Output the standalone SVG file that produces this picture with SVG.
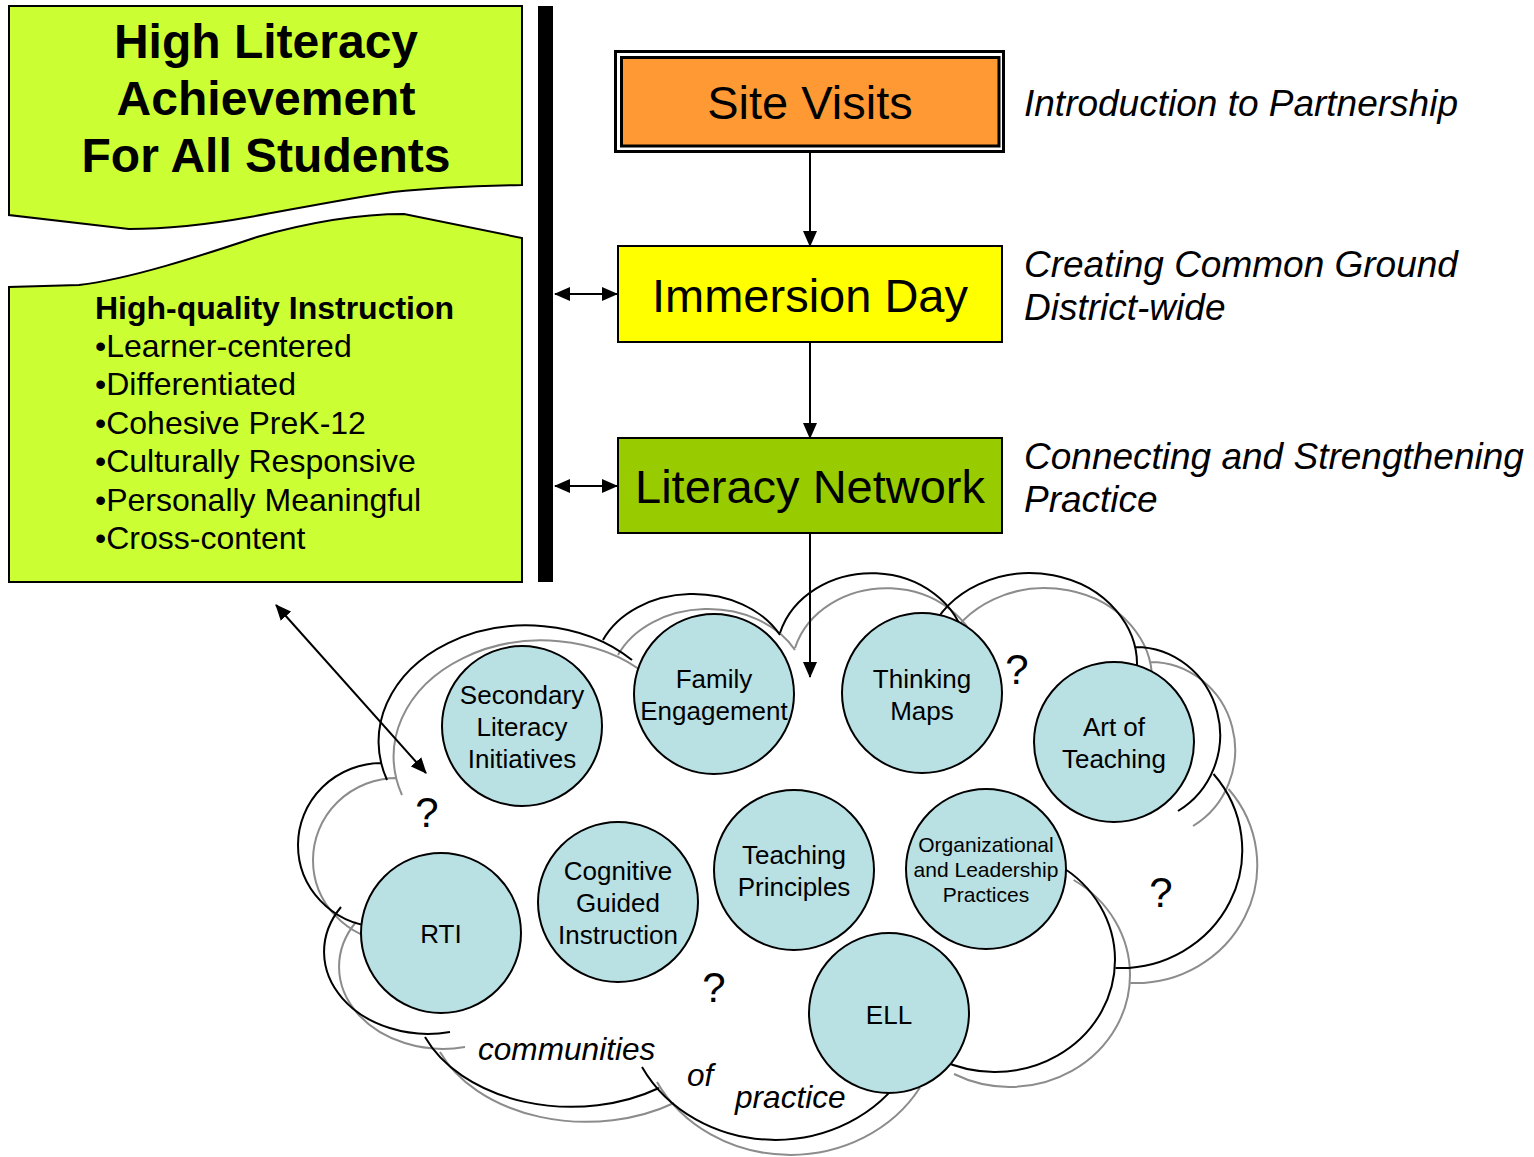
<svg xmlns="http://www.w3.org/2000/svg" xmlns:xlink="http://www.w3.org/1999/xlink" width="1534" height="1157" viewBox="0 0 1534 1157">
<style>
text{font-family:"Liberation Sans",Arial,sans-serif;fill:#000}
.title{font-size:48px;font-weight:bold;text-anchor:middle}
.hq{font-size:32px}
.hqb{font-size:32px;font-weight:bold}
.box{font-size:47px;text-anchor:middle}
.side{font-size:37px;font-style:italic}
.circ{fill:#b9e0e3;stroke:#000;stroke-width:2}
.ct{font-size:26px;text-anchor:middle}
.cts{font-size:21px;text-anchor:middle}
.q{font-size:42px;text-anchor:middle}
.cop{font-size:31.6px;font-style:italic}
.outline{fill:none;stroke:#000;stroke-width:2}
.shadow{fill:none;stroke:#8c8c8c;stroke-width:2}
.conn{stroke:#000;stroke-width:2;fill:none}
.lime{fill:#ccff33;stroke:#000;stroke-width:2}
</style>
<defs>
<marker id="ah" markerUnits="userSpaceOnUse" markerWidth="16" markerHeight="14" viewBox="0 0 16 14" refX="15" refY="7" orient="auto-start-reverse">
<path d="M0,0 L16,7 L0,14 Z" fill="#000"/>
</marker>
<path id="cloudArcs" d="M387,780 A148,116 0 0 1 632,660 M603,640 A98,76 0 0 1 780,635 M780,633 A95,82 0 0 1 965,641 M929.5,633.5 A107,92 0 0 1 1136.6,673 M1135,647 A85,88 0 0 1 1178,811 M1213.5,774 A122,118 0 0 1 1115.7,968 M1058.6,865 A120,112 0 0 1 1115,960 A120,112 0 0 1 939,1059 M642,1067 A150,135 0 0 0 905,1072.5 M425,1037 A158,112 0 0 0 659,1088 M341,907 A104,82 0 0 0 450,1032 M382,763 A84,82 0 0 0 298,845 A84,82 0 0 0 374.7,926.7"/>
</defs>
<rect width="1534" height="1157" fill="#fff"/>

<g id="goal">
<path class="lime" d="M9,6 L522,6 L522,185 C470,186 430,188 393,192 C350,198 300,208 250,217 C200,226 160,229 129,229 L9,215 Z"/>
<text class="title" x="266" y="58">High Literacy</text>
<text class="title" x="266" y="115">Achievement</text>
<text class="title" x="266" y="172">For All Students</text>
</g>

<g id="instruction">
<path class="lime" d="M9,582 L9,287 L79,285 C130,279 200,256 257,237 C310,222 360,214 404,214 L522,238 L522,582 Z"/>
<text class="hqb" x="95" y="319">High-quality Instruction</text>
<text class="hq" x="95" y="357">•Learner-centered</text>
<text class="hq" x="95" y="395">•Differentiated</text>
<text class="hq" x="95" y="434">•Cohesive PreK-12</text>
<text class="hq" x="95" y="472">•Culturally Responsive</text>
<text class="hq" x="95" y="511">•Personally Meaningful</text>
<text class="hq" x="95" y="549">•Cross-content</text>
</g>

<g id="bar">
<rect x="538" y="6" width="15" height="576" fill="#000"/>
</g>

<g id="site-visits">
<rect x="615.5" y="51.5" width="388" height="100" fill="#fff" stroke="#000" stroke-width="3"/>
<rect x="621.5" y="57.5" width="377.5" height="88.5" fill="#ff9933" stroke="#000" stroke-width="3"/>
<text class="box" x="810" y="119">Site Visits</text>
</g>
<g id="immersion-day">
<rect x="618" y="246" width="384" height="96" fill="#ffff00" stroke="#000" stroke-width="2"/>
<text class="box" x="810" y="312">Immersion Day</text>
</g>
<g id="literacy-network">
<rect x="618" y="438" width="384" height="95" fill="#99cc00" stroke="#000" stroke-width="2"/>
<text class="box" x="810" y="503">Literacy Network</text>
</g>

<g id="side-labels">
<text class="side" x="1024" y="116">Introduction to Partnership</text>
<text class="side" x="1024" y="277">Creating Common Ground</text>
<text class="side" x="1024" y="320">District-wide</text>
<text class="side" x="1024" y="469">Connecting and Strengthening</text>
<text class="side" x="1024" y="512">Practice</text>
</g>

<g id="cloud">
<use xlink:href="#cloudArcs" href="#cloudArcs" class="shadow" transform="translate(15,15)"/>
<use xlink:href="#cloudArcs" href="#cloudArcs" class="outline"/>
<text class="cop" x="478" y="1060">communities</text>
<text class="cop" x="687" y="1086">of</text>
<text class="cop" x="735" y="1108">practice</text>
<text class="q" x="427" y="827">?</text>
<text class="q" x="1017" y="684">?</text>
<text class="q" x="714" y="1002">?</text>
<text class="q" x="1161" y="907">?</text>
</g>

<g id="secondary-literacy">
<circle class="circ" cx="522" cy="726" r="80"/>
<text class="ct" x="522" y="704">Secondary</text>
<text class="ct" x="522" y="736">Literacy</text>
<text class="ct" x="522" y="768">Initiatives</text>
</g>
<g id="family-engagement">
<circle class="circ" cx="714" cy="694" r="80"/>
<text class="ct" x="714" y="688">Family</text>
<text class="ct" x="714" y="720">Engagement</text>
</g>
<g id="thinking-maps">
<circle class="circ" cx="922" cy="693" r="80"/>
<text class="ct" x="922" y="688">Thinking</text>
<text class="ct" x="922" y="720">Maps</text>
</g>
<g id="art-of-teaching">
<circle class="circ" cx="1114" cy="742" r="80"/>
<text class="ct" x="1114" y="736">Art of</text>
<text class="ct" x="1114" y="768">Teaching</text>
</g>
<g id="teaching-principles">
<circle class="circ" cx="794" cy="870" r="80"/>
<text class="ct" x="794" y="864">Teaching</text>
<text class="ct" x="794" y="896">Principles</text>
</g>
<g id="org-leadership">
<circle class="circ" cx="986" cy="869" r="80"/>
<text class="cts" x="986" y="852">Organizational</text>
<text class="cts" x="986" y="877">and Leadership</text>
<text class="cts" x="986" y="902">Practices</text>
</g>
<g id="cognitive-guided">
<circle class="circ" cx="618" cy="902" r="80"/>
<text class="ct" x="618" y="880">Cognitive</text>
<text class="ct" x="618" y="912">Guided</text>
<text class="ct" x="618" y="944">Instruction</text>
</g>
<g id="rti">
<circle class="circ" cx="441" cy="933" r="80"/>
<text class="ct" x="441" y="943">RTI</text>
</g>
<g id="ell">
<circle class="circ" cx="889" cy="1013" r="80"/>
<text class="ct" x="889" y="1024">ELL</text>
</g>

<g id="connectors">
<line class="conn" x1="810" y1="153" x2="810" y2="246" marker-end="url(#ah)"/>
<line class="conn" x1="810" y1="342" x2="810" y2="438" marker-end="url(#ah)"/>
<line class="conn" x1="810" y1="533" x2="810" y2="677" marker-end="url(#ah)"/>
<line class="conn" x1="555" y1="294" x2="617" y2="294" marker-start="url(#ah)" marker-end="url(#ah)"/>
<line class="conn" x1="555" y1="486" x2="617" y2="486" marker-start="url(#ah)" marker-end="url(#ah)"/>
<line class="conn" x1="276" y1="605" x2="426" y2="773" marker-start="url(#ah)" marker-end="url(#ah)"/>
</g>
</svg>
